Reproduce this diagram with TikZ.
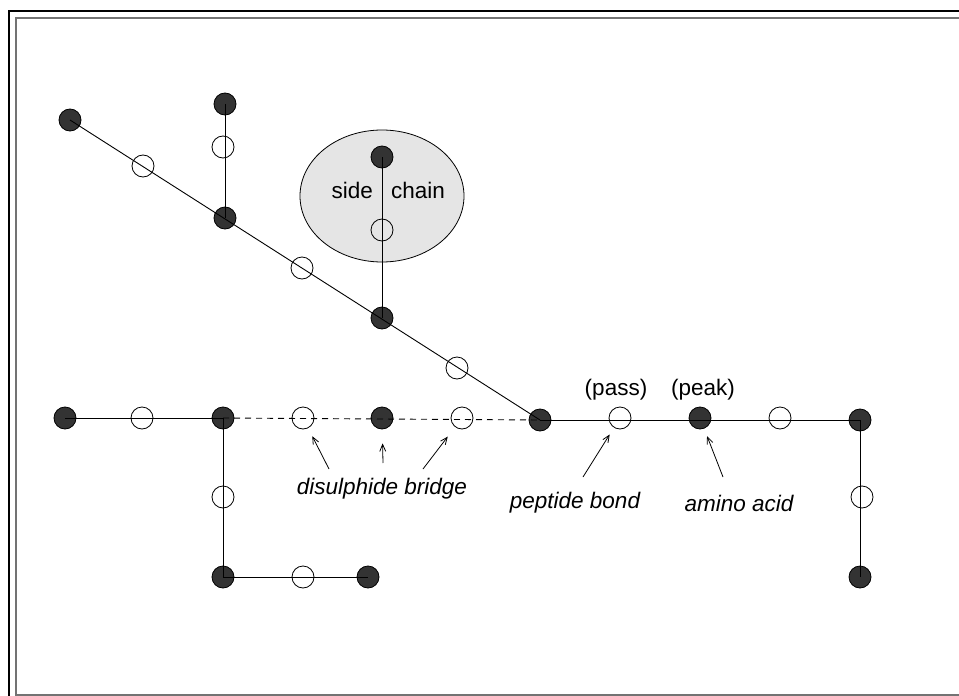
\documentclass[tikz,border=0pt]{standalone}
\usepackage{fontspec}
\setmainfont{Liberation Sans}
\usetikzlibrary{arrows.meta}

\begin{document}
\begin{tikzpicture}[x=1pt,y=-1pt]

\tikzset{acid/.style={circle,draw=black,fill=black!80,minimum size=22pt,inner sep=0pt,line width=0.8pt},
         bond/.style={circle,draw=black,minimum size=22pt,inner sep=0pt,line width=0.8pt},
         chain/.style={line width=0.9pt},
         bridge/.style={line width=0.9pt,dash pattern=on 6pt off 5pt},
         pointer/.style={line width=0.8pt,shorten >=9pt,-{Straight Barb[length=7pt,width=6pt]}},
         label/.style={font=\fontsize{22.5}{27}\selectfont,inner sep=0pt}}

\useasboundingbox (0,0) rectangle (959,696);

%% Frames
\draw[line width=2pt] (9,11) rectangle (966,703);
\draw[line width=2pt,color=black!55] (16,18) rectangle (962,695);

%% Side chain
\fill[draw=black,fill=black!10,line width=0.8pt] (382,196) ellipse [x radius=82,y radius=66];
\node[label,anchor=east] (sidelbl) at (373,190) {side};
\node[label,anchor=west] (chainlbl) at (391,190) {chain};

%% Upper chain
\node[acid] (a1) at (70,120) {};
\node[bond] (b1) at (143,166) {};
\node[acid] (a2) at (225,218) {};
\node[bond] (b2) at (302,268) {};
\node[acid] (a3) at (382,318) {};
\node[bond] (b3) at (457,368) {};
\node[acid] (a4) at (540,420) {};

%% Branches
\node[acid] (a5) at (225,104) {};
\node[bond] (b5) at (223,147) {};
\node[acid] (a6) at (382,157) {};
\node[bond] (b6) at (382,230) {};

%% Lower row
\node[acid] (r1) at (65,418) {};
\node[bond] (s1) at (142,418) {};
\node[acid] (r2) at (223,418) {};
\node[bond] (s2) at (303,418) {};
\node[acid] (r3) at (382,418) {};
\node[bond] (s3) at (462,418) {};
\node[bond] (s4) at (620,418) {};
\node[acid] (r4) at (700,418) {};
\node[bond] (s5) at (780,418) {};
\node[acid] (r5) at (860,420) {};

%% Down branches
\node[bond] (s6) at (223,497) {};
\node[acid] (r6) at (223,577) {};
\node[bond] (s7) at (303,577) {};
\node[acid] (r7) at (368,577) {};
\node[bond] (s8) at (862,497) {};
\node[acid] (r8) at (860,577) {};

%% Bonds
\draw[chain] (a1.center) -- (a4.center);
\draw[chain] (a5.center) -- (a2.center);
\draw[chain] (a6.center) -- (a3.center);
\draw[chain] (r1.center) -- (r2.center);
\draw[bridge] (r2.center) -- (a4.center);
\draw[chain] (a4.center) -- (r5.center |- a4.center) -- (r8.center);
\draw[chain] (r2.center) -- (r6.center) -- (r7.center);

%% Labels
\node[label] (pass) at (616,390) {(pass)};
\node[label] (peak) at (703,390) {(peak)};
\node[label,font=\fontsize{22.5}{27}\selectfont\itshape] (bridgelbl) at (382,489) {disulphide bridge};
\node[label,font=\fontsize{22.5}{27}\selectfont\itshape] (bondlbl) at (575,503) {peptide bond};
\node[label,font=\fontsize{22.5}{27}\selectfont\itshape] (acidlbl) at (739,503) {amino acid};

\coordinate (t1) at (329,469);
\coordinate (t2) at (383,463);
\coordinate (t3) at (423,469);
\coordinate (t4) at (583,477);
\coordinate (t5) at (723,477);
\draw[pointer] (t1) -- (s2);
\draw[pointer,shorten >=14pt] (t2) -- (r3);
\draw[pointer,shorten >=12pt] (t3) -- (s3);
\draw[pointer,shorten >=8pt] (t4) -- (s4);
\draw[pointer,shorten >=8pt] (t5) -- (r4);

\end{tikzpicture}
\end{document}
